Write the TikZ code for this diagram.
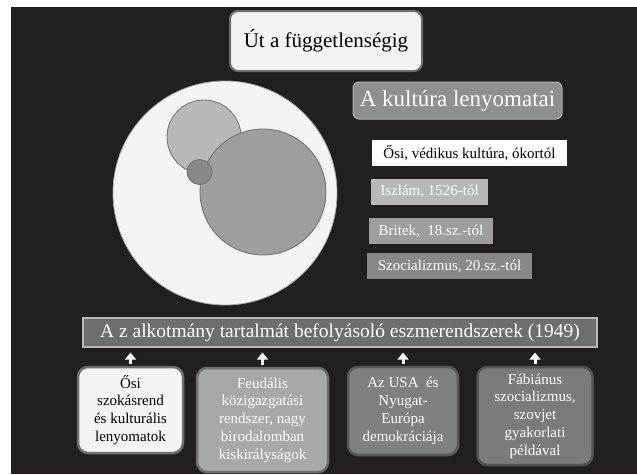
\documentclass[tikz,border=0pt]{standalone}
\usepackage{fontspec}
\setmainfont{Liberation Serif}
\usetikzlibrary{arrows.meta}
\definecolor{bgdark}{HTML}{231F20}
\definecolor{edgegray}{HTML}{6D6E70}
\definecolor{offwhite}{HTML}{F4F4F4}
\definecolor{gA}{HTML}{B7B8BA}
\definecolor{gB}{HTML}{9D9EA0}
\definecolor{gC}{HTML}{87888A}
\definecolor{gK}{HTML}{8E8F91}
\definecolor{gBan}{HTML}{6D6E70}
\definecolor{gBox2}{HTML}{A7A8AA}
\definecolor{gBox3}{HTML}{7F8082}
\definecolor{gBox4}{HTML}{7A7B7D}
\tikzset{
  x=1pt, y=-1pt,
  titlebox/.style={draw=edgegray, line width=2pt, fill=offwhite, rounded corners=8pt, minimum width=192pt, minimum height=60pt, font=\fontsize{21}{25}\selectfont},
  kulturbox/.style={draw=gray!60, line width=1pt, fill=gK, text=white, rounded corners=6pt, minimum width=209pt, minimum height=37pt, font=\fontsize{23}{27}\selectfont},
  listbox/.style={inner sep=0pt, minimum height=26pt, font=\fontsize{15}{18}\selectfont},
  banner/.style={draw=gray!55, line width=1.2pt, fill=gBan, text=white, minimum width=514pt, minimum height=29pt, font=\fontsize{19.5}{24}\selectfont},
  basebox/.style={line width=2.5pt, rounded corners=10pt, align=center, inner sep=0pt, font=\fontsize{15}{17.8}\selectfont},
  upar/.style={white, line width=3pt, -{Triangle[length=7pt,width=11pt]}},
  circ/.style={draw=edgegray, line width=0.8pt}
}
\begin{document}
\begin{tikzpicture}
\useasboundingbox (0,0) rectangle (637,474);
\fill[white] (0,0) rectangle (637,474);
\fill[bgdark] (11,7) rectangle (637,474);
% title
\node[titlebox] (title) at (326,41) {Út a függetlenségig};
% circles
\draw[draw=gray!70, line width=0.8pt, fill=offwhite] (225,193) circle[radius=112];
\draw[circ, fill=gA] (204,137) circle[radius=37];
\draw[circ, fill=gB] (263,192) circle[radius=63];
\draw[circ, fill=gC] (199.5,172) circle[radius=12.5];
% culture legend
\node[kulturbox] (kultura) at (457.5,100.5) {A kultúra lenyomatai};
\node[listbox, fill=white, text=black, minimum width=195pt] (osi) at (469.5,153) {Ősi, védikus kultúra, ókortól};
\node[listbox, fill=gA, text=white, minimum width=117pt] (iszlam) at (429.5,191.5) {Iszlám, 1526-tól};
\node[listbox, fill=gB, text=white, minimum width=124pt] (britek) at (431,231) {Britek,\ \ 18.sz.-tól};
\node[listbox, fill=gC, text=white, minimum width=165pt] (szoc) at (449.5,266) {Szocializmus, 20.sz.-tól};
% banner
\node[banner] (ban) at (340,332.5) {A z alkotmány tartalmát befolyásoló eszmerendszerek (1949)};
% bottom boxes
\node[basebox, draw=edgegray, fill=offwhite, text=black, minimum width=105pt, minimum height=86pt] (b1) at (130.5,410) {Ősi\\szokásrend\\és kulturális\\lenyomatok};
\node[basebox, draw=edgegray, fill=gBox2, text=white, minimum width=131pt, minimum height=104pt] (b2) at (262.5,420) {Feudális\\közigazgatási\\rendszer, nagy\\birodalomban\\kiskirályságok};
\node[basebox, draw=gray!70!black, fill=gBox3, text=white, minimum width=110pt, minimum height=88pt] (b3) at (403,411) {Az USA\ \ és\\Nyugat-\\Európa\\demokráciája};
\node[basebox, draw=gray!65!black, fill=gBox4, text=white, minimum width=115pt, minimum height=98pt] (b4) at (535,416) {Fábiánus\\szocializmus,\\szovjet\\gyakorlati\\példával};
% arrows
\foreach \b in {b1,b2,b3,b4}{
  \draw[upar, shorten <=1.5pt, shorten >=5pt] (\b.north) -- (\b.north |- ban.south);
}
\end{tikzpicture}
\end{document}
